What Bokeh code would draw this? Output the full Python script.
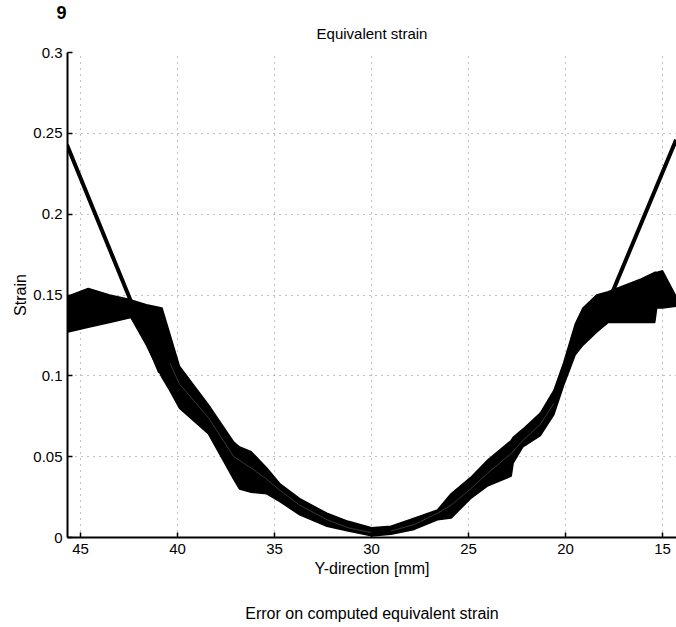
from bokeh.plotting import figure
from bokeh.models import Range1d, FixedTicker, Title, LinearAxis
from bokeh.embed import file_html
from bokeh.resources import INLINE

# ---- data ----
y_dir_mm = [45.7, 44.6, 43.5, 42.4, 41.6, 40.8, 40.4, 39.9, 38.4, 37.1,
            36.8, 36.2, 35.4, 34.7, 33.7, 32.3, 31.2, 30.0, 29.0, 27.8,
            26.6, 25.9, 24.9, 24.0, 22.8, 22.7, 22.2, 21.3, 20.6, 20.1,
            19.5, 19.1, 18.4, 17.8, 17.6, 16.1, 15.4, 15.3, 15.0, 14.3]
strain_upper = [0.149, 0.154, 0.150, 0.147, 0.144, 0.142, 0.126, 0.106, 0.082, 0.059,
                0.056, 0.053, 0.043, 0.033, 0.024, 0.015, 0.010, 0.006, 0.007, 0.012,
                0.017, 0.027, 0.037, 0.048, 0.060, 0.062, 0.067, 0.077, 0.091, 0.108,
                0.132, 0.142, 0.150, 0.152, 0.153, 0.160, 0.164, 0.164, 0.165, 0.149]
strain_lower = [0.127, 0.130, 0.133, 0.136, 0.119, 0.099, 0.091, 0.080, 0.064, 0.036,
                0.030, 0.028, 0.027, 0.022, 0.014, 0.007, 0.004, 0.001, 0.002, 0.005,
                0.011, 0.012, 0.024, 0.032, 0.038, 0.046, 0.056, 0.063, 0.076, 0.094,
                0.113, 0.119, 0.127, 0.133, 0.133, 0.133, 0.133, 0.142, 0.142, 0.143]

left_tail_x = [45.7, 40.9]
left_tail_y = [0.243, 0.102]
right_tail_x = [14.3, 18.2]
right_tail_y = [0.246, 0.134]

inner1_x = [40.4, 39.9, 38.4, 37.1, 36.2, 35.4, 34.7, 33.7, 32.3, 31.2, 30.0]
inner1_y = [0.108, 0.095, 0.074, 0.050, 0.043, 0.036, 0.029, 0.020, 0.011, 0.006, 0.003]
inner2_x = [29.0, 27.8, 26.6, 25.9, 24.9, 24.0, 22.8, 22.2, 21.3, 20.6]
inner2_y = [0.004, 0.008, 0.015, 0.020, 0.030, 0.040, 0.052, 0.060, 0.070, 0.083]

x_ticks = [45, 40, 35, 30, 25, 20, 15]
y_ticks = [0, 0.05, 0.1, 0.15, 0.2, 0.25, 0.3]
y_tick_labels = ["0", "0.05", "0.1", "0.15", "0.2", "0.25", "0.3"]

FONT = "Liberation Sans"

p = figure(width=676, height=627, output_backend="svg", toolbar_location=None,
           x_range=Range1d(45.67, 14.28), y_range=Range1d(0, 0.3),
           min_border_left=67, min_border_right=0, min_border_top=52, min_border_bottom=90)
p.outline_line_color = None
p.background_fill_color = "white"
p.border_fill_color = "white"

p.varea(x=y_dir_mm, y1=strain_lower, y2=strain_upper, fill_color="black")
p.line(x=y_dir_mm, y=strain_upper, line_color="black", line_width=1.5)
p.line(x=y_dir_mm, y=strain_lower, line_color="black", line_width=1.5)
p.line(x=inner1_x, y=inner1_y, line_color="#9a9a9a", line_width=0.7, line_alpha=0.5)
p.line(x=inner2_x, y=inner2_y, line_color="#9a9a9a", line_width=0.7, line_alpha=0.5)
p.line(x=left_tail_x, y=left_tail_y, line_color="black", line_width=4)
p.line(x=right_tail_x, y=right_tail_y, line_color="black", line_width=4)

# outer title: figure number "9"
p.title.text = "9"
p.title.text_font = FONT
p.title.text_font_size = "18px"
p.title.text_font_style = "bold"
p.title.text_color = "black"
p.title.align = "left"
p.title.offset = -11
p.title.standoff = -12

# chart title, closest to the frame
p.add_layout(Title(text="Equivalent strain", text_font=FONT, text_font_size="15px",
                   text_font_style="normal", text_color="black", align="center",
                   standoff=21), "above")

# axes
xax = p.xaxis[0]
yax = p.yaxis[0]
for ax in (xax, yax):
    ax.axis_line_color = "black"
    ax.axis_line_width = 2
    ax.major_tick_in = 5
    ax.major_tick_out = 0
    ax.minor_tick_line_color = None
    ax.major_tick_line_color = "black"
    ax.major_tick_line_width = 1.5
    ax.major_label_text_font = FONT
    ax.major_label_text_font_size = "15px"
    ax.major_label_text_color = "black"
    ax.axis_label_text_font = FONT
    ax.axis_label_text_font_size = "16px"
    ax.axis_label_text_font_style = "normal"
    ax.axis_label_text_color = "black"

xax.ticker = FixedTicker(ticks=x_ticks)
yax.ticker = FixedTicker(ticks=y_ticks)
yax.major_label_overrides = {t: l for t, l in zip(y_ticks, y_tick_labels)}
xax.axis_label = "Y-direction [mm]"
yax.axis_label = "Strain"
xax.major_label_standoff = 6
xax.axis_label_standoff = 3
yax.major_label_standoff = 5
yax.axis_label_standoff = 1

# caption under the chart, carried by a bare axis
caption_axis = LinearAxis(ticker=FixedTicker(ticks=[]),
                          axis_line_color=None, major_tick_line_color=None,
                          minor_tick_line_color=None, major_tick_in=0, major_tick_out=0,
                          major_label_text_font_size="0px", major_label_standoff=0,
                          axis_label="Error on computed equivalent strain",
                          axis_label_text_font=FONT, axis_label_text_font_size="16px",
                          axis_label_text_font_style="normal", axis_label_text_color="black",
                          axis_label_standoff=25)
p.add_layout(caption_axis, "below")

# dotted grid
for g in (p.xgrid[0], p.ygrid[0]):
    g.grid_line_color = "#666666"
    g.grid_line_dash = "1 5"
    g.grid_line_width = 1
    g.grid_line_alpha = 0.8

open("out.html", "w").write(file_html(p, INLINE))
